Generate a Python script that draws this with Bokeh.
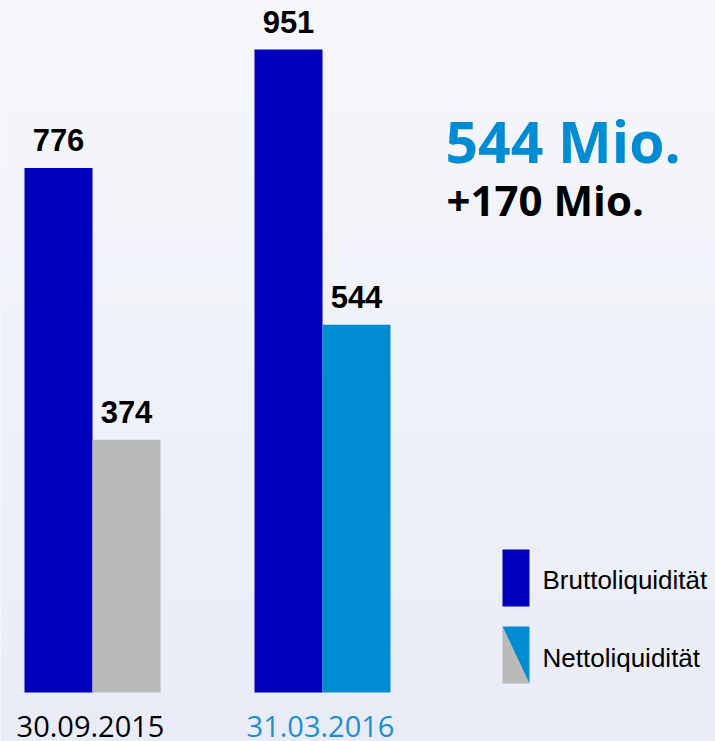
from bokeh.plotting import figure
from bokeh.models import ColumnDataSource, Range1d
from bokeh.transform import dodge
from bokeh.core.properties import value
from bokeh.embed import file_html
from bokeh.resources import INLINE
import numpy as np

# ---- data ----
dates = ["30.09.2015", "31.03.2016"]
brutto = [776, 951]
netto = [374, 544]
headline = "544 Mio."
delta = "+170 Mio."
legend_labels = ["Bruttoliquidität", "Nettoliquidität"]

# ---- style ----
DARK = "#0000BE"
LIGHT = "#008CD3"
GRAY = "#BABABB"
netto_colors = [GRAY, LIGHT]
date_colors = ["#000000", "#1A8FD1"]

W, H = 715, 741
px_per_unit = 0.676
group_px = 230.0
x0_ref, base_ref = 92.0, 692.0
x_start = (0 - x0_ref) / group_px
x_end = (W - x0_ref) / group_px
y_end = (base_ref - 0) / px_per_unit
y_start = (base_ref - H) / px_per_unit

p = figure(width=W, height=H, output_backend="svg", toolbar_location=None,
           x_range=Range1d(x_start, x_end), y_range=Range1d(y_start, y_end),
           min_border=0)
p.axis.visible = False
p.grid.visible = False
p.outline_line_color = None
p.background_fill_color = "#F0F2F9"
p.border_fill_color = "#F0F2F9"

# pixel-space ranges for layout decorations
p.extra_x_ranges = {"px": Range1d(0, W)}
p.extra_y_ranges = {"px": Range1d(H, 0)}

# background gradient
n = 60
edges = np.linspace(0, H, n + 1)
top_c = np.array([246, 247, 251])
bot_c = np.array([233, 236, 247])
cols = []
for i in range(n):
    t = i / (n - 1)
    c = (top_c * (1 - t) + bot_c * t).round().astype(int)
    cols.append("#%02x%02x%02x" % tuple(c))
p.quad(left=0, right=W, top=edges[:-1], bottom=edges[1:] + 0.5, fill_color=cols,
       line_color=None, x_range_name="px", y_range_name="px")

idx = list(range(len(dates)))
src = ColumnDataSource(dict(x=idx, brutto=brutto, netto=netto, nc=netto_colors,
                            bl=[str(v) for v in brutto], nl=[str(v) for v in netto],
                            dates=dates, dc=date_colors))

bw = 68 / group_px
off = bw / 2
p.vbar(x=dodge("x", -off, range=p.x_range), top="brutto", bottom=0, width=bw,
       fill_color=DARK, line_color=None, source=src)
p.vbar(x=dodge("x", off, range=p.x_range), top="netto", bottom=0, width=bw,
       fill_color="nc", line_color=None, source=src)

lab = dict(text_font=value("Liberation Sans"), text_font_style="bold",
           text_font_size="31px", text_color="#000000", text_align="center",
           text_baseline="middle", y_offset=-28, source=src)
p.text(x=dodge("x", -off, range=p.x_range), y="brutto", text="bl", **lab)
p.text(x=dodge("x", off, range=p.x_range), y="netto", text="nl", **lab)

# date labels
p.text(x="x", y=0, text="dates", text_color="dc", text_font=value("Open Sans"),
       text_font_size="29px", text_align="center", text_baseline="middle",
       x_offset=-2, y_offset=34, source=src)

# headline annotations
p.text(x=[445], y=[140], text=[headline], text_color=LIGHT,
       text_font=value("Open Sans"), text_font_style="bold", text_font_size="57px",
       text_baseline="middle", x_range_name="px", y_range_name="px")
p.text(x=[446], y=[199], text=[delta], text_color="#000000",
       text_font=value("Open Sans"), text_font_style="bold", text_font_size="42px",
       text_baseline="middle", x_range_name="px", y_range_name="px")

# legend
p.quad(left=[502], right=[529], top=[549], bottom=[606], fill_color=DARK,
       line_color=None, x_range_name="px", y_range_name="px")
p.patch(x=[502, 502, 529], y=[626, 683, 683], fill_color=GRAY, line_color=None,
        x_range_name="px", y_range_name="px")
p.patch(x=[502, 529, 529], y=[626, 626, 683], fill_color=LIGHT, line_color=None,
        x_range_name="px", y_range_name="px")
p.text(x=[542, 542], y=[579, 657], text=legend_labels, text_color="#000000",
       text_font=value("Liberation Sans"), text_font_size="26px",
       text_baseline="middle", x_range_name="px", y_range_name="px")

open("out.html", "w").write(file_html(p, INLINE))
